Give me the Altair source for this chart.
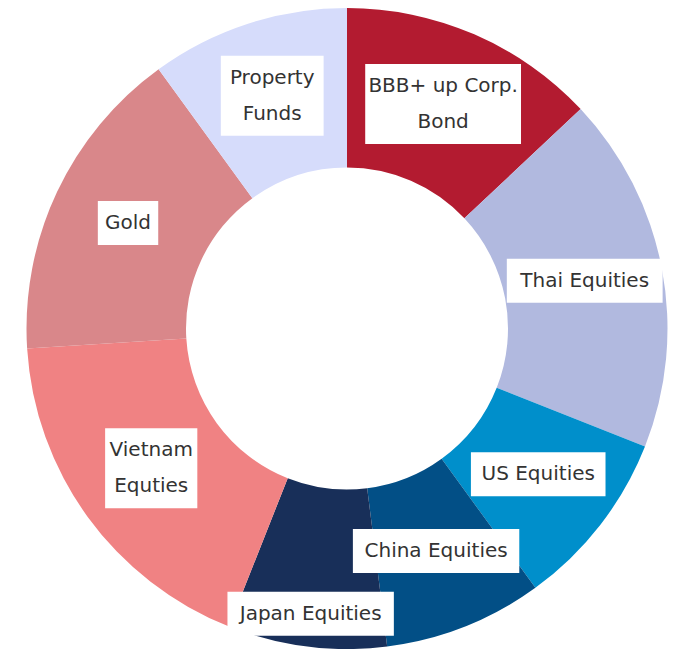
import altair as alt
import pandas as pd

categories = ["BBB+ up Corp. Bond", "Thai Equities", "US Equities", "China Equities",
              "Japan Equities", "Vietnam Equties", "Gold", "Property Funds"]
labels = ["BBB+ up Corp.\nBond", "Thai Equities", "US Equities", "China Equities",
          "Japan Equities", "Vietnam\nEquties", "Gold", "Property\nFunds"]
values = [13, 18, 9, 8, 8, 18, 16, 10]
colors = ["#B31B30", "#B1B9DF", "#008FCB", "#024F86", "#182F59", "#F08283", "#D9878A", "#D6DCFB"]

df = pd.DataFrame({
    "category": categories,
    "label": labels,
    "value": values,
    "idx": list(range(len(categories))),
})

CX, CY, R = 339, 320.5, 320.5
LCX, LCY = 339, 318
base = alt.Chart(df)

arc = base.mark_arc(innerRadius=161, outerRadius=R).encode(
    theta=alt.Theta("value:Q", stack=True),
    color=alt.Color("category:N", scale=alt.Scale(domain=categories, range=colors), legend=None),
    order=alt.Order("idx:Q"),
    x=alt.value(CX),
    y=alt.value(CY),
)

lab = base.transform_window(
    cum="sum(value)", sort=[alt.SortField("idx")], frame=[None, 0]
).transform_joinaggregate(
    total="sum(value)"
).transform_calculate(
    ang="2*PI*(datum.cum - datum.value/2)/datum.total",
    r="datum.category == 'Japan Equities' ? 290 : 242",
    lines="split(datum.label, '\\n')",
).transform_calculate(
    nlines="length(datum.lines)",
    maxlen="length(datum.lines) > 1 ? max(length(datum.lines[0]), length(datum.lines[1])) : length(datum.lines[0])",
    cx=f"{LCX} + datum.r*sin(datum.ang)",
    cy=f"{LCY} - datum.r*cos(datum.ang)",
).transform_calculate(
    bw="datum.maxlen*10.6 + 18",
    bh="datum.nlines*36 + 8",
    ty="datum.cy - (datum.nlines - 1)*18",
).transform_calculate(
    x1="datum.cx - datum.bw/2",
    x2="datum.cx + datum.bw/2",
    y1="datum.cy - datum.bh/2",
    y2="datum.cy + datum.bh/2",
)

boxes = lab.mark_rect(color="white").encode(
    x=alt.X("x1:Q", scale=None),
    x2="x2:Q",
    y=alt.Y("y1:Q", scale=None),
    y2="y2:Q",
)

texts = lab.mark_text(
    font="DejaVu Sans", fontSize=20, color="#333333", lineBreak="\n", lineHeight=36,
    align="center", baseline="middle",
).encode(
    x=alt.X("cx:Q", scale=None),
    y=alt.Y("ty:Q", scale=None),
    text="label:N",
)

chart = alt.layer(arc, boxes, texts).properties(
    width=663, height=638
).configure(padding=0).configure_view(stroke=None)

chart.save("out.html", embed_options={"renderer": "svg", "actions": False})
